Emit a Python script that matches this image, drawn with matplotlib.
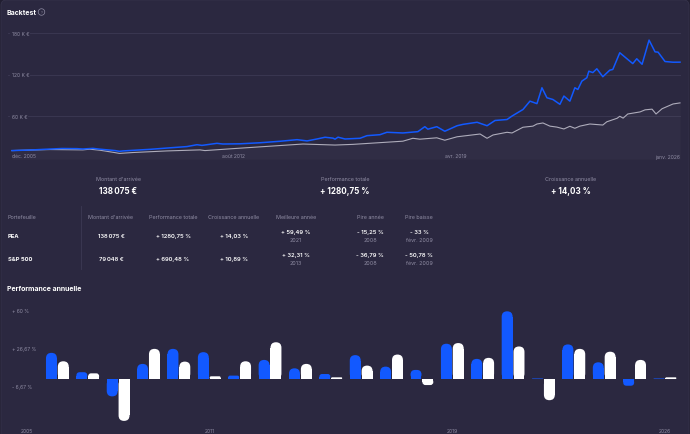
import matplotlib.pyplot as plt
from matplotlib.patches import FancyBboxPatch, Rectangle
from matplotlib.lines import Line2D

W, H = 690, 435
FOND = '#2b2840'
GRILLE = '#3c3954'
GRIS = '#8f8ca3'
BLEU = '#1259ff'
BLANC = '#ffffff'

# --- courbe du backtest (k€, dates en années décimales) ---
dates_pea = [2005.92, 2006.55, 2007.06, 2007.42, 2007.87, 2008.05, 2008.35, 2008.57, 2009.02, 2009.15,
             2009.26, 2010.07, 2010.67, 2011.18, 2011.48, 2011.63, 2012.08, 2012.26, 2012.77, 2013.37,
             2013.98, 2014.49, 2014.79, 2015.09, 2015.33, 2015.57, 2015.63, 2015.72, 2015.93, 2016.38,
             2016.59, 2016.98, 2017.19, 2017.67, 2018.12, 2018.33, 2018.42, 2018.69, 2018.93, 2019.30,
             2019.48, 2019.90, 2020.20, 2020.44, 2020.80, 2020.95, 2021.28, 2021.49, 2021.70, 2021.85,
             2022.00, 2022.18, 2022.39, 2022.51, 2022.69, 2022.84, 2022.93, 2023.05, 2023.20, 2023.26,
             2023.38, 2023.50, 2023.68, 2023.89, 2023.98, 2024.19, 2024.43, 2024.58, 2024.70, 2024.86,
             2025.07, 2025.25, 2025.34, 2025.55, 2025.79, 2026.00]
pea = [10, 11.0, 12.2, 13.0, 12.8, 12.3, 13.2, 12.0, 10.0, 8.9,
       9.5, 11.8, 14.0, 15.8, 18.5, 17.5, 20.5, 19.5, 19.8, 21.3,
       23.5, 25.8, 24, 26.8, 29.3, 28, 26.5, 29.4, 26.8, 27.8,
       31.6, 33, 36.5, 35.5, 37.4, 44.6, 41, 44.6, 38, 46,
       48, 51, 46, 53.6, 55, 60, 69.5, 81.6, 78, 101,
       86.5, 84, 77, 89, 81.6, 101, 98.5, 110.6, 115.5, 125,
       123, 128.5, 117, 126.5, 127.5, 151.7, 142, 136, 143, 135,
       170, 153, 152.6, 139, 138, 138.075]

dates_sp = [2005.92, 2007.06, 2008.05, 2008.26, 2008.57, 2009.02, 2009.15, 2009.56, 2010.58, 2011.57,
            2011.72, 2012.56, 2013.16, 2014.67, 2015.63, 2016.17, 2017.67, 2017.97, 2018.18, 2018.69,
            2018.93, 2019.30, 2019.99, 2020.20, 2020.38, 2020.80, 2020.95, 2021.28, 2021.58, 2021.70,
            2021.88, 2022.09, 2022.30, 2022.51, 2022.69, 2022.84, 2022.99, 2023.29, 2023.68, 2023.80,
            2024.11, 2024.19, 2024.29, 2024.43, 2024.80, 2024.95, 2025.16, 2025.28, 2025.46, 2025.79,
            2026.00]
sp = [10, 11.5, 11.0, 12.0, 10.5, 7.0, 5.9, 7.2, 9.5, 11.0,
      10.0, 12.8, 14.7, 19.5, 18, 19, 23.6, 27.8, 26.5, 28.5,
      25, 30, 34, 27.8, 32.6, 36.5, 35.5, 43.8, 45.4, 48.5,
      50, 45.4, 44, 41.3, 45.2, 42.3, 45.4, 48.5, 47, 51.7,
      56.8, 59.7, 57, 63, 66, 69, 70, 63, 70.6, 77.5,
      79.048]

ticks_courbe = [60, 120, 180]
labels_courbe = ['60 K €', '120 K €', '180 K €']
dates_axe = [2005.92, 2012.58, 2019.25, 2026.0]
labels_axe = ['déc. 2005', 'août 2012', 'avr. 2019', 'janv. 2026']

# --- chiffres clés ---
titres_cles = ["Montant d'arrivée", 'Performance totale', 'Croissance annuelle']
valeurs_cles = ['138\u202f075 €', '+ 1280,75 %', '+ 14,03 %']

# --- tableau ---
entetes = ['Portefeuille', "Montant d'arrivée", 'Performance totale', 'Croissance annuelle',
           'Meilleure année', 'Pire année', 'Pire baisse']
portefeuilles = ['PEA', 'S&P 500']
montants = ['138\u202f075 €', '79\u202f048 €']
perf_totales = ['+ 1280,75 %', '+ 690,48 %']
croissances = ['+ 14,03 %', '+ 10,89 %']
meilleures = [('+ 59,49 %', '2021'), ('+ 32,31 %', '2013')]
pires = [('- 15,25 %', '2008'), ('- 36,79 %', '2008')]
baisses = [('- 33 %', 'févr. 2009'), ('- 50,78 %', 'févr. 2009')]

# --- performance annuelle (%) ---
annees = list(range(2005, 2027))
perf_pea = [0, 23, 6, -15.25, 13.3, 26.5, 23.6, 3, 16.8, 9.4, 4.4, 21, 10.9, 8,
            31, 17.7, 59.49, 0.5, 30.4, 14.7, -5.9, 0.5]
perf_sp = [0, 15.6, 5, -36.79, 26.5, 15.3, 2.4, 15.6, 32.31, 13.3, 1.5, 11.8, 21.5, -5.3,
           31.6, 18.6, 28.6, -18.6, 26.5, 24, 16.8, 1.5]
ticks_barres = [60, 26.67, -6.67]
labels_barres = ['+ 60 %', '+ 26,67 %', '- 6,67 %']
annees_affichees = [2005, 2011, 2019, 2026]

plt.rcParams['font.family'] = ['Inter', 'DejaVu Sans']

fig = plt.figure(figsize=(W / 100, H / 100), dpi=100)
fig.patch.set_facecolor('#211e31')
panneau = FancyBboxPatch((1 / W, -0.05), (W - 2) / W, 1.05 - 1 / H,
                         boxstyle='round,pad=0,rounding_size=0.008', mutation_aspect=W / H,
                         transform=fig.transFigure, fc=FOND, ec='#36334b', lw=0.6, zorder=-10)
fig.patches.append(panneau)


def axes_px(x0, y0, x1, y1):
    ax = fig.add_axes([x0 / W, 1 - y1 / H, (x1 - x0) / W, (y1 - y0) / H])
    ax.set_facecolor('none')
    ax.axis('off')
    return ax


def texte(x, y, s, **kw):
    kw.setdefault('va', 'center')
    fig.text(x / W, 1 - y / H, s, **kw)


# titre
texte(7, 13, 'Backtest', color=BLANC, fontsize=5, fontweight='bold')
texte(41.5, 13, '?', color=GRIS, fontsize=2.6, ha='center',
      bbox=dict(boxstyle='circle,pad=0.35', fc='none', ec=GRIS, lw=0.5))

# courbe
ax = axes_px(8, 28, 681, 160)
ax.set_xlim(2005.80, 2026.03)
ax.set_ylim(-2.2, 189)
for v, lab in zip(ticks_courbe, labels_courbe):
    ax.axhline(v, color=GRILLE, lw=0.6, zorder=0)
    ax.text(3.5 / 673, v, lab, transform=ax.get_yaxis_transform(), color=GRIS, fontsize=3.6,
            va='center', ha='left', bbox=dict(fc=FOND, ec='none', pad=0.8))
ax.fill_between(dates_sp, sp, -2.2, color='white', alpha=0.028, lw=0)
ax.plot(dates_sp, sp, color='#aeacbb', lw=0.8)
ax.plot(dates_pea, pea, color=BLEU, lw=1.1)
for i, (d, lab) in enumerate(zip(dates_axe, labels_axe)):
    ha = 'left' if i == 0 else ('right' if i == len(dates_axe) - 1 else 'center')
    ax.text(d, 3 / 132, lab, transform=ax.get_xaxis_transform(), color=GRIS, fontsize=3.6,
            ha=ha, va='center')

# chiffres clés
for xc, t, v in zip([118, 345, 571], titres_cles, valeurs_cles):
    texte(xc, 180, t, color=GRIS, fontsize=3.9, ha='center')
    texte(xc, 191, v, color=BLANC, fontsize=5.8, fontweight='bold', ha='center')

# tableau
cols = [8, 111, 173, 234, 296, 370, 419]
for i, (xc, e) in enumerate(zip(cols, entetes)):
    texte(xc, 217.5, e, color=GRIS, fontsize=3.9, ha='left' if i == 0 else 'center')
fig.add_artist(Line2D([81 / W, 81 / W], [1 - 207 / H, 1 - 270 / H], color=GRILLE, lw=0.6))
for j, yc in enumerate([236.5, 259.5]):
    texte(cols[0], yc, portefeuilles[j], color=BLANC, fontsize=4.2, fontweight='bold')
    for xc, v in zip(cols[1:4], [montants[j], perf_totales[j], croissances[j]]):
        texte(xc, yc, v, color=BLANC, fontsize=4.2, fontweight='semibold', ha='center')
    for xc, (v, d) in zip(cols[4:], [meilleures[j], pires[j], baisses[j]]):
        texte(xc, yc - 4.2, v, color=BLANC, fontsize=4.2, fontweight='semibold', ha='center')
        texte(xc, yc + 4.2, d, color=GRIS, fontsize=3.9, ha='center')

# performance annuelle
texte(7, 289, 'Performance annuelle', color=BLANC, fontsize=5, fontweight='bold')
axb = axes_px(8, 300, 682, 430)
axb.set_xlim(2004.375, 2026.56)
axb.set_ylim(-43.9, 70.3)
ASPECT = (674 / 22.185) / (130 / 114.2)
LARGEUR = 0.36


def barre(ax, xc, h, couleur):
    if h == 0:
        return
    r = min(0.5 * LARGEUR, abs(h) / ASPECT / 2)
    ax.add_patch(FancyBboxPatch((xc - LARGEUR / 2, min(0, h)), LARGEUR, abs(h),
                                boxstyle=f'round,pad=0,rounding_size={r}', mutation_aspect=ASPECT,
                                fc=couleur, ec='none'))
    plat = abs(h) - r * ASPECT
    if plat > 0:
        ax.add_patch(Rectangle((xc - LARGEUR / 2, 0 if h > 0 else -plat), LARGEUR, plat,
                               fc=couleur, ec='none'))


for a, p, s in zip(annees, perf_pea, perf_sp):
    barre(axb, a - 0.195, p, BLEU)
    barre(axb, a + 0.195, s, BLANC)
for v, lab in zip(ticks_barres, labels_barres):
    axb.text(4 / 674, v, lab, transform=axb.get_yaxis_transform(), color=GRIS, fontsize=3.6,
             va='center', ha='left')
for a in annees_affichees:
    axb.text(a, -1.5 / 130, str(a), transform=axb.get_xaxis_transform(), color=GRIS,
             fontsize=3.6, ha='center', va='center')

fig.savefig('out.png', dpi=100, facecolor=fig.get_facecolor())
